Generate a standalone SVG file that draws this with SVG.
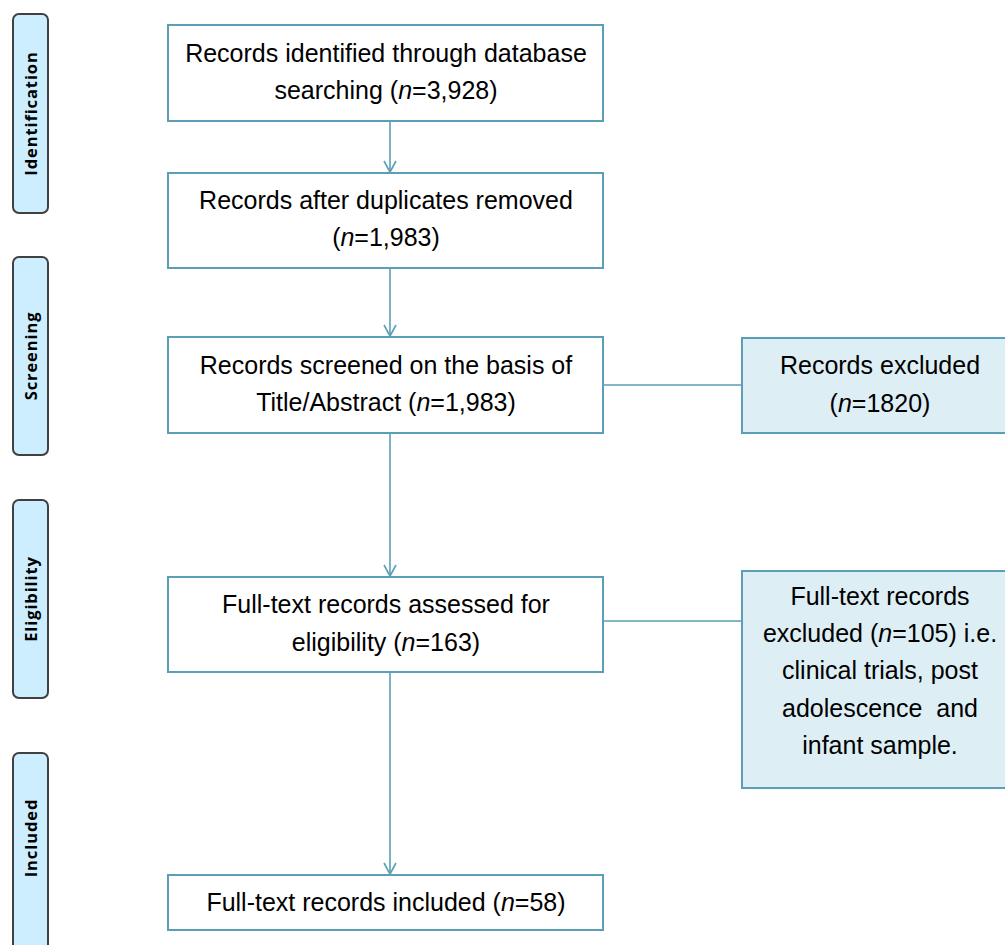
<svg xmlns="http://www.w3.org/2000/svg" width="1005" height="945" viewBox="0 0 1005 945">
<style>
.box{fill:#ffffff;stroke:#5A9FB5;stroke-width:2}
.exc{fill:#DDEEF5;stroke:#5A9FB5;stroke-width:2}
.phase{fill:#CCEEFF;stroke:#404040;stroke-width:2}
.t{font-family:"Liberation Sans",Arial,sans-serif;font-size:25px;fill:#000;text-anchor:middle}
.p{font-family:"Open Sans","DejaVu Sans",sans-serif;font-size:16.5px;font-weight:bold;fill:#000;text-anchor:middle;letter-spacing:0.9px}
.c{stroke:#5A9FB5;stroke-width:1.6;fill:none}
.it{font-style:italic}
</style>
<defs>
<marker id="arr" markerWidth="14" markerHeight="14" refX="12" refY="7" orient="auto" markerUnits="userSpaceOnUse" viewBox="0 0 14 14">
<path d="M1,1 L12,7 L1,13" fill="none" stroke="#5A9FB5" stroke-width="1.6"/>
</marker>
</defs>
<rect width="1005" height="945" fill="#ffffff"/>
<g id="phase-identification"><rect class="phase" x="13" y="14" width="35" height="199" rx="6"/><text class="p" transform="translate(36.5,113.5) rotate(-90)">Identification</text></g>
<g id="phase-screening"><rect class="phase" x="13" y="257" width="35" height="198" rx="6"/><text class="p" transform="translate(36.5,356) rotate(-90)">Screening</text></g>
<g id="phase-eligibility"><rect class="phase" x="13" y="500" width="35" height="198" rx="6"/><text class="p" transform="translate(36.5,599) rotate(-90)">Eligibility</text></g>
<g id="phase-included"><rect class="phase" x="13" y="753" width="35" height="210" rx="6"/><text class="p" transform="translate(36.5,838) rotate(-90)">Included</text></g>
<g id="connectors">
<line class="c" x1="390" y1="121" x2="390" y2="172" marker-end="url(#arr)"/>
<line class="c" x1="390" y1="268" x2="390" y2="336" marker-end="url(#arr)"/>
<line class="c" x1="390" y1="433" x2="390" y2="576" marker-end="url(#arr)"/>
<line class="c" x1="390" y1="672" x2="390" y2="874" marker-end="url(#arr)"/>
<line class="c" x1="603" y1="385" x2="742" y2="385"/>
<line class="c" x1="603" y1="621" x2="742" y2="621"/>
</g>
<g id="identified"><rect class="box" x="168" y="25" width="435" height="96"/>
<text class="t" x="386" y="62">Records identified through database</text>
<text class="t" x="386" y="99">searching (<tspan class="it">n</tspan>=3,928)</text></g>
<g id="deduplicated"><rect class="box" x="168" y="173" width="435" height="95"/>
<text class="t" x="386" y="209">Records after duplicates removed</text>
<text class="t" x="386" y="246">(<tspan class="it">n</tspan>=1,983)</text></g>
<g id="screened"><rect class="box" x="168" y="337" width="435" height="96"/>
<text class="t" x="386" y="374">Records screened on the basis of</text>
<text class="t" x="386" y="411">Title/Abstract (<tspan class="it">n</tspan>=1,983)</text></g>
<g id="excluded"><rect class="exc" x="742" y="338" width="280" height="95"/>
<text class="t" x="880" y="374">Records excluded</text>
<text class="t" x="880" y="412">(<tspan class="it">n</tspan>=1820)</text></g>
<g id="assessed"><rect class="box" x="168" y="577" width="435" height="95"/>
<text class="t" x="386" y="613">Full-text records assessed for</text>
<text class="t" x="386" y="651">eligibility (<tspan class="it">n</tspan>=163)</text></g>
<g id="fulltext-excluded"><rect class="exc" x="742" y="571" width="280" height="217"/>
<text class="t" x="880" y="605">Full-text records</text>
<text class="t" x="880" y="642">excluded (<tspan class="it">n</tspan>=105) i.e.</text>
<text class="t" x="880" y="679">clinical trials, post</text>
<text class="t" x="880" y="717" xml:space="preserve">adolescence  and</text>
<text class="t" x="880" y="754">infant sample.</text></g>
<g id="included"><rect class="box" x="168" y="875" width="435" height="55"/>
<text class="t" x="386" y="911">Full-text records included (<tspan class="it">n</tspan>=58)</text></g>
</svg>
